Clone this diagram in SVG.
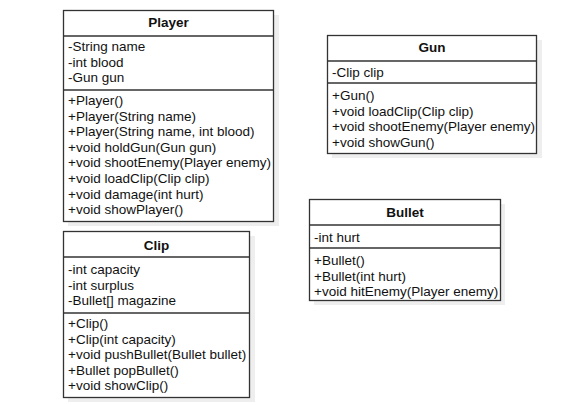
<svg xmlns="http://www.w3.org/2000/svg" width="586" height="405" viewBox="0 0 586 405">
<style>
.bg{fill:#ffffff}
.sh{fill:#eeeeee}
.box{fill:#ffffff;stroke:#333333;stroke-width:1.3}
.div{stroke:#333333;stroke-width:1.3}
text{font-family:"Liberation Sans",Arial,sans-serif;font-size:13.5px;fill:#111111}
.t{font-weight:bold;text-anchor:middle}
</style>
<rect class="bg" x="0" y="0" width="586" height="405"/>
<g id="Player">
<rect class="sh" x="68" y="15" width="211" height="211"/>
<rect class="box" x="63.5" y="10.5" width="210" height="211"/>
<line class="div" x1="63.5" y1="36" x2="273.5" y2="36"/>
<line class="div" x1="63.5" y1="90" x2="273.5" y2="90"/>
<text class="t" x="168.5" y="27">Player</text>
<text x="68" y="51">-String name</text>
<text x="68" y="66.5">-int blood</text>
<text x="68" y="82">-Gun gun</text>
<text x="68" y="105">+Player()</text>
<text x="68" y="120.6">+Player(String name)</text>
<text x="68" y="136.2">+Player(String name, int blood)</text>
<text x="68" y="151.8">+void holdGun(Gun gun)</text>
<text x="68" y="167.4">+void shootEnemy(Player enemy)</text>
<text x="68" y="183">+void loadClip(Clip clip)</text>
<text x="68" y="198.6">+void damage(int hurt)</text>
<text x="68" y="214.2">+void showPlayer()</text>
</g>
<g id="Clip">
<rect class="sh" x="68" y="236" width="187" height="166"/>
<rect class="box" x="63.5" y="231.5" width="186" height="166"/>
<line class="div" x1="63.5" y1="257" x2="249.5" y2="257"/>
<line class="div" x1="63.5" y1="313" x2="249.5" y2="313"/>
<text class="t" x="156.5" y="250">Clip</text>
<text x="68" y="274">-int capacity</text>
<text x="68" y="289.5">-int surplus</text>
<text x="68" y="305">-Bullet[] magazine</text>
<text x="68" y="328">+Clip()</text>
<text x="68" y="343.6">+Clip(int capacity)</text>
<text x="68" y="359.2">+void pushBullet(Bullet bullet)</text>
<text x="68" y="374.8">+Bullet popBullet()</text>
<text x="68" y="390.4">+void showClip()</text>
</g>
<g id="Gun">
<rect class="sh" x="332" y="40" width="210" height="118"/>
<rect class="box" x="327.5" y="35.5" width="209" height="118"/>
<line class="div" x1="327.5" y1="61" x2="536.5" y2="61"/>
<line class="div" x1="327.5" y1="83" x2="536.5" y2="83"/>
<text class="t" x="432" y="52">Gun</text>
<text x="332" y="77">-Clip clip</text>
<text x="332" y="100">+Gun()</text>
<text x="332" y="115.6">+void loadClip(Clip clip)</text>
<text x="332" y="131.2">+void shootEnemy(Player enemy)</text>
<text x="332" y="146.8">+void showGun()</text>
</g>
<g id="Bullet">
<rect class="sh" x="314" y="204" width="191" height="101"/>
<rect class="box" x="309.5" y="199.5" width="191" height="101"/>
<line class="div" x1="309.5" y1="225" x2="500.5" y2="225"/>
<line class="div" x1="309.5" y1="248" x2="500.5" y2="248"/>
<text class="t" x="405" y="217">Bullet</text>
<text x="314" y="241.5">-int hurt</text>
<text x="314" y="265">+Bullet()</text>
<text x="314" y="280.6">+Bullet(int hurt)</text>
<text x="314" y="296.2">+void hitEnemy(Player enemy)</text>
</g>
<g id="connectors"></g>
</svg>
